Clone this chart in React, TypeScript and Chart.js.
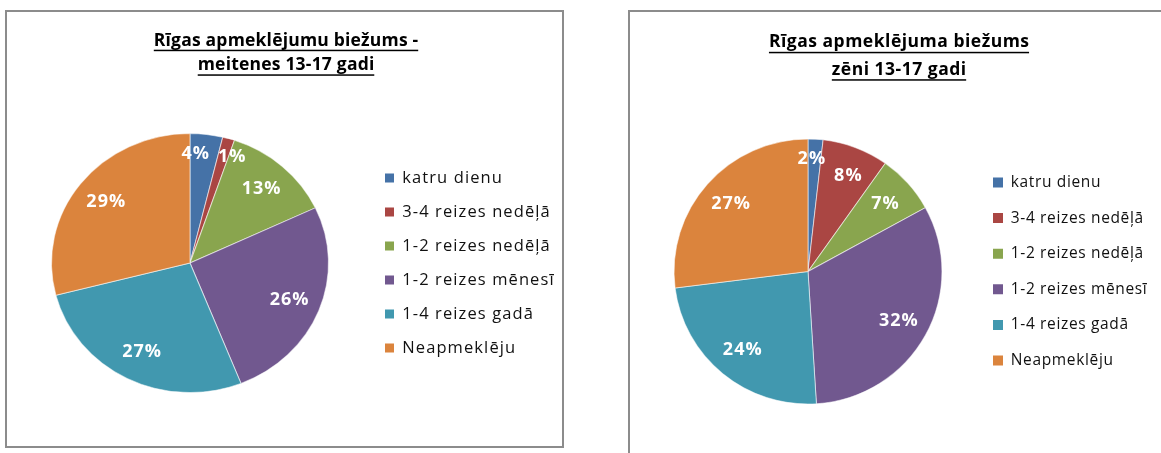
import React, { useEffect, useRef } from "react";
import { Chart, registerables } from "chart.js";

Chart.register(...registerables);

// ---------------- data ----------------
const categories = [
  "katru dienu",
  "3-4 reizes nedēļā",
  "1-2 reizes nedēļā",
  "1-2 reizes mēnesī",
  "1-4 reizes gadā",
  "Neapmeklēju",
];
const girlsValues = [3.8, 1.4, 12.8, 26.0, 27.0, 29.0];
const boysValues = [1.8, 8.0, 7.2, 32.0, 24.0, 27.0];
const girlsTitle = ["Rīgas apmeklējumu biežums -", "meitenes 13-17 gadi"];
const boysTitle = ["Rīgas apmeklējuma biežums", "zēni 13-17 gadi"];
const sliceColors = ["#4572A7", "#AA4643", "#89A54E", "#71588F", "#4198AF", "#DB843D"];

// ---------------- layout / style ----------------
type Geo = {
  boxLeft: number; boxTop: number; boxW: number; boxH: number;
  cx: number; cy: number; r: number; sx: number;
  legendBoxX: number; legendPad: number; legendFont: number; legendBox: number; legendLS: number;
  titleCx: number; titleY: number; titleLH: number; titleFont: number; titleLS: number; ulOff: number;
  labelFont: number; labelLS: number;
};

const girlsGeo: Geo = {
  boxLeft: 5, boxTop: 10, boxW: 559, boxH: 438,
  cx: 183, cy: 251, r: 129.5, sx: 1.0695,
  legendBoxX: 378, legendPad: 17.5, legendFont: 16.5, legendBox: 9, legendLS: 1.1,
  titleCx: 279, titleY: 33.7, titleLH: 24.6, titleFont: 17.5, titleLS: 0.2, ulOff: 4,
  labelFont: 18, labelLS: 1,
};

const boysGeo: Geo = {
  boxLeft: 628, boxTop: 10, boxW: 558, boxH: 460,
  cx: 178, cy: 259.5, r: 132.5, sx: 1.011,
  legendBoxX: 363, legendPad: 20.1, legendFont: 15.5, legendBox: 10, legendLS: 0.65,
  titleCx: 269, titleY: 35.3, titleLH: 27.4, titleFont: 17.5, titleLS: 0.5, ulOff: 4.5,
  labelFont: 18, labelLS: 1,
};

const FONT = '"Open Sans", "DejaVu Sans", sans-serif';
const EXTRA = 140; // canvas extends past the frame's inner edge (clipped)

function PieBox({ values, title, geo }: { values: number[]; title: string[]; geo: Geo }) {
  const ref = useRef<HTMLCanvasElement>(null);
  const W = geo.boxW - 4;
  const H = geo.boxH - 4;
  const CW = W + EXTRA;

  useEffect(() => {
    const canvas = ref.current!;
    const total = values.reduce((a, b) => a + b, 0);

    const m = document.createElement("canvas").getContext("2d") as any;
    m.font = `${geo.legendFont}px ${FONT}`;
    m.letterSpacing = geo.legendLS + "px";
    const maxText = Math.max(...categories.map((c) => m.measureText(c).width));
    const legendW = geo.legendPad + geo.legendBox + geo.legendFont / 2 + maxText + 10;

    const legendLeft = geo.legendBoxX - geo.legendPad;
    const pl = 2 * geo.cx - legendLeft;
    const pr = Math.max(0, CW - legendLeft - legendW);
    const pt = geo.cy - 160;
    const pb = H - (geo.cy + 160);

    const plugin = {
      id: "pieExtras",
      beforeLayout(chart: any) {
        chart.ctx.letterSpacing = geo.legendLS + "px";
      },
      beforeDraw(chart: any) {
        chart.ctx.letterSpacing = geo.legendLS + "px";
      },
      beforeDatasetsDraw(chart: any) {
        const meta = chart.getDatasetMeta(0);
        const a = meta.data[0];
        const ctx = chart.ctx;
        ctx.save();
        if (a) {
          ctx.translate(a.x, a.y);
          ctx.scale(geo.sx, 1);
          ctx.translate(-a.x, -a.y);
        }
      },
      afterDatasetsDraw(chart: any) {
        const ctx = chart.ctx;
        ctx.restore();
        const meta = chart.getDatasetMeta(0);
        ctx.save();
        ctx.font = `bold ${geo.labelFont}px ${FONT}`;
        ctx.letterSpacing = geo.labelLS + "px";
        ctx.fillStyle = "#ffffff";
        ctx.textAlign = "center";
        ctx.textBaseline = "middle";
        const items = meta.data.map((el: any, i: number) => {
          const p = el.getProps(["x", "y", "startAngle", "endAngle", "outerRadius"], true);
          const pct = (values[i] / total) * 100;
          const mid = (p.startAngle + p.endAngle) / 2;
          const frac = pct < 5 ? 0.85 : 0.77;
          const text = Math.round(pct) + "%";
          const w = ctx.measureText(text).width;
          return {
            text,
            w,
            x: p.x + Math.cos(mid) * p.outerRadius * frac * geo.sx,
            y: p.y + Math.sin(mid) * p.outerRadius * frac,
          };
        });
        // simple overlap resolution between neighbouring labels
        for (let i = 0; i < items.length - 1; i++) {
          const a = items[i], b = items[i + 1];
          const need = (a.w + b.w) / 2 + 8;
          const dx = b.x - a.x;
          if (Math.abs(a.y - b.y) < geo.labelFont && Math.abs(dx) < need) {
            const push = (need - Math.abs(dx)) / 2;
            const s = dx >= 0 ? 1 : -1;
            a.x -= push * s;
            b.x += push * s;
          }
        }
        items.forEach((it: any) => ctx.fillText(it.text, it.x + geo.labelLS / 2, it.y));
        ctx.restore();
      },
      afterDraw(chart: any) {
        const ctx = chart.ctx;
        ctx.save();
        ctx.font = `bold ${geo.titleFont}px ${FONT}`;
        ctx.letterSpacing = geo.titleLS + "px";
        ctx.fillStyle = "#000000";
        ctx.textAlign = "left";
        ctx.textBaseline = "alphabetic";
        title.forEach((line, i) => {
          const w = ctx.measureText(line).width - geo.titleLS;
          const x0 = geo.titleCx - w / 2;
          const y = geo.titleY + i * geo.titleLH;
          ctx.fillText(line, x0, y);
          ctx.fillRect(x0, y + geo.ulOff, w, 1.5);
        });
        ctx.restore();
      },
    };

    const chart = new Chart(canvas, {
      type: "pie",
      data: {
        labels: categories,
        datasets: [
          {
            data: values,
            backgroundColor: sliceColors,
            borderColor: "rgba(255,255,255,0.55)",
            borderWidth: 1,
            radius: geo.r,
          } as any,
        ],
      },
      options: {
        responsive: false,
        animation: false,
        devicePixelRatio: 1,
        events: [],
        layout: { padding: { left: pl, right: pr, top: pt, bottom: pb } },
        plugins: {
          title: { display: false },
          tooltip: { enabled: false },
          legend: {
            position: "right",
            align: "center",
            labels: {
              boxWidth: geo.legendBox,
              boxHeight: geo.legendBox,
              padding: geo.legendPad,
              color: "#111111",
              font: { family: FONT, size: geo.legendFont },
              generateLabels: (c: any) =>
                (Chart as any).overrides.pie.plugins.legend.labels
                  .generateLabels(c)
                  .map((l: any) => ({ ...l, lineWidth: 0 })),
            },
          },
        },
      } as any,
      plugins: [plugin],
    });
    return () => chart.destroy();
  }, []);

  return (
    <div
      style={{
        position: "absolute",
        left: geo.boxLeft,
        top: geo.boxTop,
        width: geo.boxW,
        height: geo.boxH,
        border: "2px solid #8c8c8c",
        boxSizing: "border-box",
        background: "#ffffff",
        overflow: "hidden",
      }}
    >
      <canvas ref={ref} width={CW} height={H} style={{ display: "block", width: CW, height: H }} />
    </div>
  );
}

export default function App() {
  return (
    <div
      style={{
        position: "fixed",
        left: 0,
        top: 0,
        width: 1161,
        height: 453,
        overflow: "hidden",
        background: "#ffffff",
      }}
    >
      <PieBox values={girlsValues} title={girlsTitle} geo={girlsGeo} />
      <PieBox values={boysValues} title={boysTitle} geo={boysGeo} />
    </div>
  );
}
